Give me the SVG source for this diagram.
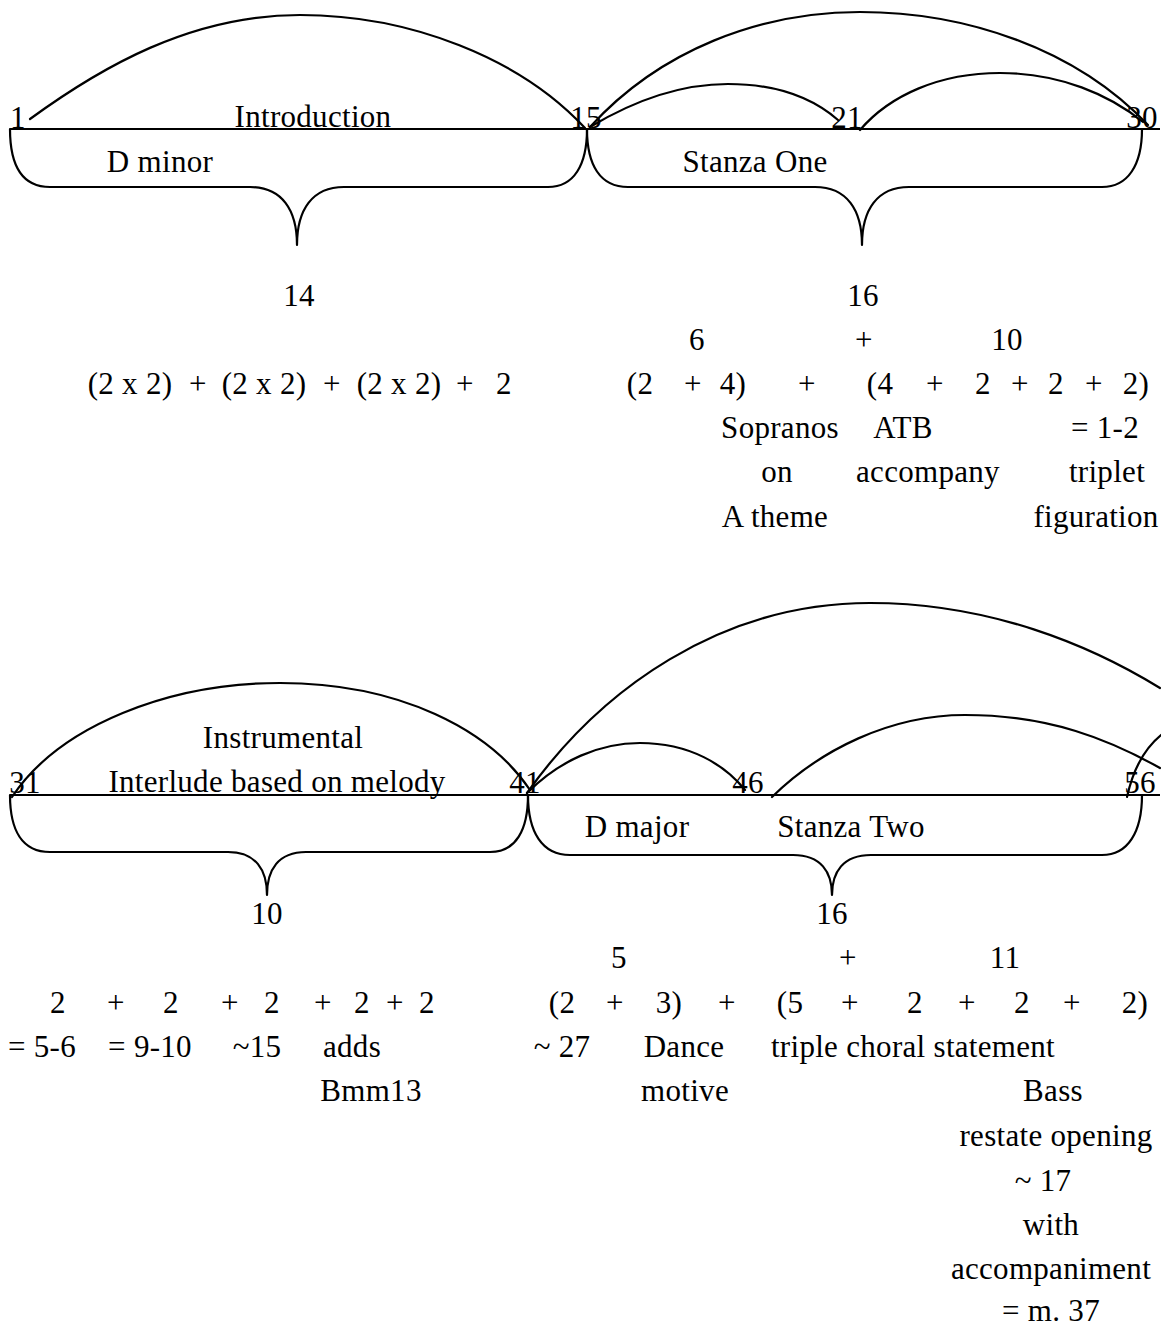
<svg xmlns="http://www.w3.org/2000/svg" width="1161" height="1327" viewBox="0 0 1161 1327">
  <style>
    text { font-family: "Liberation Serif", "Times New Roman", serif; font-size: 31px; letter-spacing: 0.3px; fill: #000; text-anchor: middle; }
    .ln { fill: none; stroke: #000; stroke-width: 2.2; stroke-linecap: round; stroke-linejoin: round; }
    .axis { fill: none; stroke: #000; stroke-width: 2; }
  </style>
  <rect width="1161" height="1327" fill="#fff"/>

  <!-- measure timelines -->
  <g id="axes">
    <line class="axis" x1="10" y1="129" x2="1160" y2="129"/>
    <line class="axis" x1="10" y1="795" x2="1160" y2="795"/>
  </g>

  <!-- arcs spanning phrase groups -->
  <g id="connectors">
    <path class="ln" d="M30,119 C100,68 190,15 300,15 C410,15 520,58 585,128"/>
    <path class="ln" d="M590,127 C660,50 760,12 860,12 C965,12 1075,48 1148,125"/>
    <path class="ln" d="M590,127 C635,100 680,84 728,84 C780,84 815,100 838,120"/>
    <path class="ln" d="M860,130 C890,95 940,73 1000,73 C1060,73 1110,95 1143,122"/>
    <path class="ln" d="M12,797 C60,725 170,683 280,683 C400,683 490,730 530,790"/>
    <path class="ln" d="M527,793 C600,690 720,603 870,603 C990,603 1090,645 1160,688"/>
    <path class="ln" d="M527,793 C560,760 600,743 640,743 C690,743 725,765 745,790"/>
    <path class="ln" d="M772,797 C820,750 890,715 965,715 C1050,715 1110,740 1160,768"/>
    <path class="ln" d="M1127,797 C1133,770 1145,748 1161,735"/>
  </g>

  <!-- first system: Introduction, measures 1-14 -->
  <g id="introduction">
    <path class="ln" d="M10,129 C10,165 22,187 50,187 L250,187 C282,187 297,210 297,245 C297,210 312,187 344,187 L548,187 C574,187 587,165 587,129"/>
    <text x="18" y="128">1</text>
    <text x="313" y="127">Introduction</text>
    <text x="160" y="172">D minor</text>
    <text x="299" y="306">14</text>
    <text x="130" y="394">(2 x 2)</text>
    <text x="198" y="394">+</text>
    <text x="264" y="394">(2 x 2)</text>
    <text x="332" y="394">+</text>
    <text x="399" y="394">(2 x 2)</text>
    <text x="465" y="394">+</text>
    <text x="504" y="394">2</text>
  </g>

  <!-- first system: Stanza One, measures 15-30 -->
  <g id="stanza-one">
    <path class="ln" d="M587,129 C587,165 600,187 628,187 L815,187 C847,187 862,210 862,245 C862,210 877,187 909,187 L1102,187 C1128,187 1142,165 1142,129"/>
    <text x="586" y="128">15</text>
    <text x="847" y="128">21</text>
    <text x="1142" y="128">30</text>
    <text x="755" y="172">Stanza One</text>
    <text x="863" y="306">16</text>
    <text x="697" y="350">6</text>
    <text x="864" y="350">+</text>
    <text x="1007" y="350">10</text>
    <text x="640" y="394">(2</text>
    <text x="693" y="394">+</text>
    <text x="733" y="394">4)</text>
    <text x="807" y="394">+</text>
    <text x="880" y="394">(4</text>
    <text x="935" y="394">+</text>
    <text x="983" y="394">2</text>
    <text x="1020" y="394">+</text>
    <text x="1056" y="394">2</text>
    <text x="1094" y="394">+</text>
    <text x="1136" y="394">2)</text>
    <text x="780" y="438">Sopranos</text>
    <text x="903" y="438">ATB</text>
    <text x="1105" y="438">= 1-2</text>
    <text x="777" y="482">on</text>
    <text x="928" y="482">accompany</text>
    <text x="1107" y="482">triplet</text>
    <text x="775" y="527">A theme</text>
    <text x="1096" y="527">figuration</text>
  </g>

  <!-- second system: Instrumental Interlude, measures 31-40 -->
  <g id="interlude">
    <path class="ln" d="M10,795 C10,830 22,852 50,852 L228,852 C256,852 267,870 267,895 C267,870 278,852 306,852 L490,852 C516,852 528,830 528,795"/>
    <text x="25" y="793">31</text>
    <text x="525" y="793">41</text>
    <text x="283" y="748">Instrumental</text>
    <text x="277" y="792">Interlude based on melody</text>
    <text x="267" y="924">10</text>
    <text x="58" y="1013">2</text>
    <text x="116" y="1013">+</text>
    <text x="171" y="1013">2</text>
    <text x="230" y="1013">+</text>
    <text x="272" y="1013">2</text>
    <text x="323" y="1013">+</text>
    <text x="362" y="1013">2</text>
    <text x="395" y="1013">+</text>
    <text x="427" y="1013">2</text>
    <text x="42" y="1057">= 5-6</text>
    <text x="150" y="1057">= 9-10</text>
    <text x="257" y="1057">~15</text>
    <text x="352" y="1057">adds</text>
    <text x="371" y="1101">Bmm13</text>
  </g>

  <!-- second system: Stanza Two, measures 41-56 -->
  <g id="stanza-two">
    <path class="ln" d="M528,795 C528,832 542,855 570,855 L793,855 C821,855 832,872 832,895 C832,872 843,855 871,855 L1102,855 C1128,855 1142,832 1142,795"/>
    <text x="748" y="793">46</text>
    <text x="1140" y="793">56</text>
    <text x="637" y="837">D major</text>
    <text x="851" y="837">Stanza Two</text>
    <text x="832" y="924">16</text>
    <text x="619" y="968">5</text>
    <text x="848" y="968">+</text>
    <text x="1005" y="968">11</text>
    <text x="562" y="1013">(2</text>
    <text x="615" y="1013">+</text>
    <text x="669" y="1013">3)</text>
    <text x="727" y="1013">+</text>
    <text x="790" y="1013">(5</text>
    <text x="850" y="1013">+</text>
    <text x="915" y="1013">2</text>
    <text x="967" y="1013">+</text>
    <text x="1022" y="1013">2</text>
    <text x="1072" y="1013">+</text>
    <text x="1135" y="1013">2)</text>
    <text x="562" y="1057">~ 27</text>
    <text x="684" y="1057">Dance</text>
    <text x="913" y="1057">triple choral statement</text>
    <text x="685" y="1101">motive</text>
    <text x="1053" y="1101">Bass</text>
    <text x="1056" y="1146">restate opening</text>
    <text x="1043" y="1191">~ 17</text>
    <text x="1051" y="1235">with</text>
    <text x="1051" y="1279">accompaniment</text>
    <text x="1051" y="1321">= m. 37</text>
  </g>
</svg>
